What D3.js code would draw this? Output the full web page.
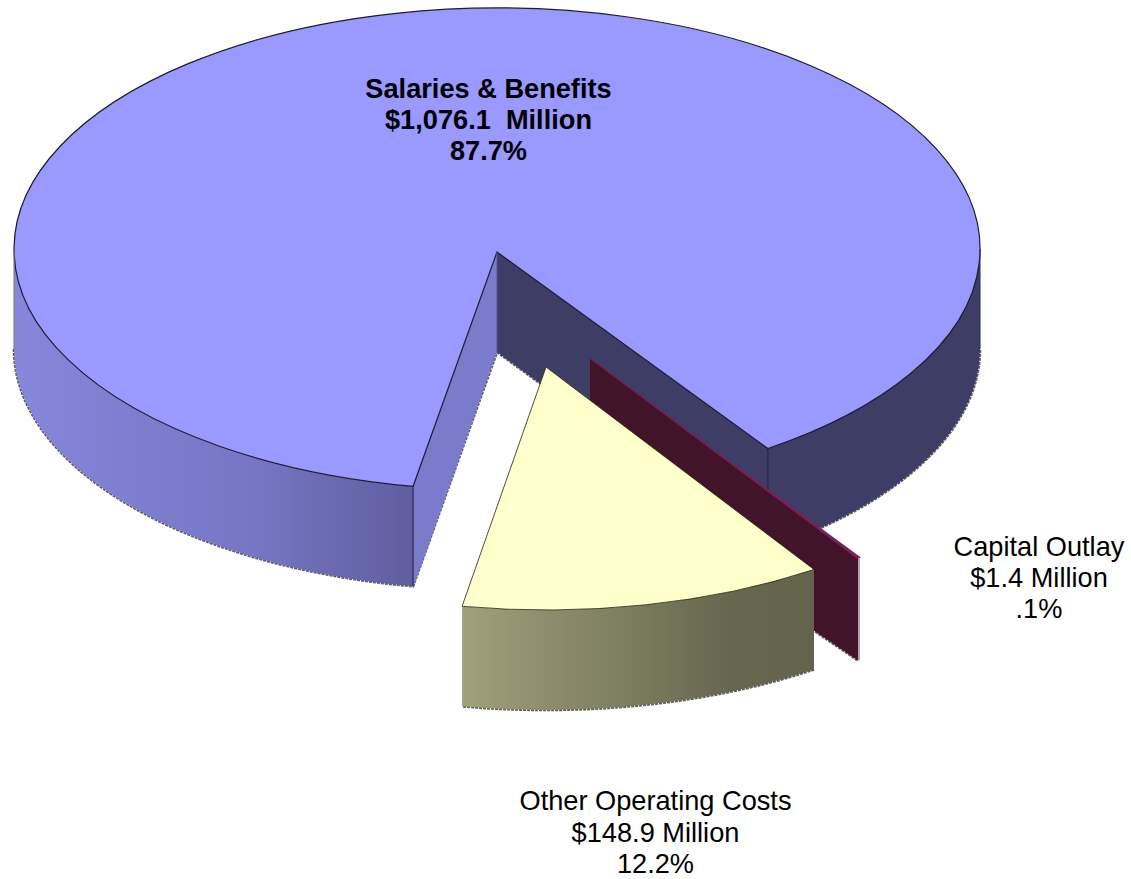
<!DOCTYPE html>
<html>
<head>
<meta charset="utf-8">
<script src="https://cdn.jsdelivr.net/npm/d3@7"></script>
<style>
  html, body { margin: 0; padding: 0; background: #fff; }
  svg { display: block; }
  text { font-family: "Liberation Sans", Arial, sans-serif; font-size: 27.2px; fill: #000; white-space: pre; }
</style>
</head>
<body>
<svg id="chart" width="1131" height="879"></svg>
<script>
// Budget split, in millions of dollars
const categories = ["Salaries & Benefits", "Capital Outlay", "Other Operating Costs"];
const amounts = [1076.1, 1.4, 148.9];
const amountLabels = ["$1,076.1  Million", "$1.4 Million", "$148.9 Million"];
const shareLabels = ["87.7%", ".1%", "12.2%"];

// Tilted-disc geometry
const rx = 483, ry = 241, depth = 100;
const firstAngle = 190 * Math.PI / 180;
const centers = [{ x: 497, y: 249, tip: 3 }, { x: 590, y: 358, tip: 0 }, { x: 546, y: 369, tip: -2 }];

const topColors = ["#9999ff", "#7b2057", "#ffffcc"];
const faceColors = ["#3d3d66", "#421429", "#66664f"];
const labelAnchors = [{ x: 488.5, y: 88 }, { x: 1039, y: 546 }, { x: 655.5, y: 800.6 }];
const labelWeights = ["bold", "normal", "normal"];

const svg = d3.select("#chart");
const slices = d3.pie().sort(null).startAngle(firstAngle).endAngle(firstAngle + 2 * Math.PI)(amounts);

const at = (c, a, dy = 0) => [c.x + rx * Math.sin(a), c.y - ry * Math.cos(a) + dy];
const tip = (c, dy = 0) => [c.x, c.y + c.tip + dy];
const pt = p => p[0].toFixed(1) + "," + p[1].toFixed(1);

const arcTo = (c, a, dy, sweep, large) =>
  `A${rx},${ry} 0 ${large ? 1 : 0} ${sweep} ${pt(at(c, a, dy))}`;

// Top surface of a slice
const topPath = (c, s) =>
  `M${pt(tip(c))}L${pt(at(c, s.startAngle))}${arcTo(c, s.endAngle, 0, 1, s.endAngle - s.startAngle > Math.PI)}Z`;

// Outer rim wall between two angles
const rimPath = (c, a0, a1) =>
  `M${pt(at(c, a0))}${arcTo(c, a1, 0, 1)}L${pt(at(c, a1, depth))}${arcTo(c, a0, depth, 0)}Z`;

// Flat cut face running from the centre out to the rim
const facePath = (c, a, tipDepth = depth) =>
  `M${pt(tip(c))}L${pt(at(c, a))}L${pt(at(c, a, depth + 2))}L${pt(tip(c, tipDepth))}Z`;

// Rim shading
const defs = svg.append("defs");
function rimGradient(id, x1, x2, stops) {
  const g = defs.append("linearGradient").attr("id", id)
    .attr("gradientUnits", "userSpaceOnUse")
    .attr("x1", x1).attr("x2", x2).attr("y1", 0).attr("y2", 0);
  stops.forEach(([o, c]) => g.append("stop").attr("offset", o).attr("stop-color", c));
}
rimGradient("rimMain", 14, 414, [[0, "#8686dc"], [0.6, "#7676c4"], [1, "#5e5e9e"]]);
rimGradient("rimOther", 463, 815, [[0, "#a0a07c"], [0.75, "#67674f"], [1, "#64644c"]]);

const edge = "#1c1c2e";
const fringe = sel => sel.attr("fill", "none").attr("stroke", "#5c5c5c")
  .attr("stroke-width", 2.6).attr("stroke-dasharray", "3 1");

const [main, capital, other] = slices;
const cMain = centers[0], cCap = centers[1], cOther = centers[2];
const q = Math.PI / 2;
const rightEnd = main.endAngle - 2 * Math.PI;

// Salaries & Benefits: lower edges, then walls, then the top surface
svg.append("path").call(fringe)
  .attr("d", `M${pt(at(cMain, 3 * q, depth))}${arcTo(cMain, main.startAngle, depth, 0)}L${pt(tip(cMain, depth))}`);
svg.append("path").call(fringe)
  .attr("d", `M${pt(tip(cMain, depth))}L${pt(at(cMain, main.endAngle, depth))}${arcTo(cMain, q, depth, 0)}`);

svg.append("path").attr("d", rimPath(cMain, q, rightEnd)).attr("fill", faceColors[0]);
svg.append("path").attr("d", rimPath(cMain, main.startAngle, 3 * q)).attr("fill", "url(#rimMain)");
svg.append("path").attr("d", facePath(cMain, main.endAngle)).attr("fill", faceColors[0]);
svg.append("path").attr("d", facePath(cMain, main.startAngle)).attr("fill", "#7b7bcb");

svg.append("path").attr("d", topPath(cMain, main)).attr("fill", topColors[0])
  .attr("stroke", edge).attr("stroke-width", 1.2);
svg.append("path").attr("d", `M${pt(at(cMain, main.startAngle))}L${pt(at(cMain, main.startAngle, depth))}`)
  .attr("stroke", edge).attr("stroke-width", 1);
svg.append("path").attr("d", `M${pt(at(cMain, main.endAngle))}L${pt(at(cMain, main.endAngle, depth))}`)
  .attr("stroke", edge).attr("stroke-width", 1);
svg.append("path").attr("d", `M${pt(tip(cMain))}L${pt(tip(cMain, depth))}`)
  .attr("stroke", "#55558f").attr("stroke-width", 1);
svg.append("path").attr("d", `M14,${cMain.y}V${cMain.y + depth}`).attr("stroke", "#777").attr("stroke-width", 1);
svg.append("path").attr("d", `M980,${cMain.y}V${cMain.y + depth}`).attr("stroke", "#2a2a44").attr("stroke-width", 1);

// Capital Outlay: a thin blade
const bladeTipDepth = 121;
svg.append("path").call(fringe)
  .attr("d", `M${pt(tip(cCap, bladeTipDepth))}L${pt(at(cCap, capital.endAngle, depth + 2))}`);
svg.append("path").attr("d", `M${pt(at(cCap, capital.endAngle))}V${at(cCap, capital.endAngle, depth + 2)[1]}`)
  .attr("stroke", "#aaa").attr("stroke-width", 2).attr("transform", "translate(1,0)");
svg.append("path").attr("d", facePath(cCap, capital.endAngle, bladeTipDepth)).attr("fill", faceColors[1]);
svg.append("path").attr("d", topPath(cCap, capital)).attr("fill", topColors[1]);
svg.append("path").attr("d", `M${pt(tip(cCap))}L${pt(at(cCap, capital.endAngle))}`)
  .attr("stroke", topColors[1]).attr("stroke-width", 1.4);

// Other Operating Costs
svg.append("path").call(fringe)
  .attr("d", `M${pt(at(cOther, other.startAngle, depth))}${arcTo(cOther, other.endAngle, depth, 1)}`);
svg.append("path").attr("d", rimPath(cOther, other.startAngle, other.endAngle)).attr("fill", "url(#rimOther)");
svg.append("path").attr("d", topPath(cOther, other)).attr("fill", topColors[2])
  .attr("stroke", "#23230f").attr("stroke-width", 0.8);

// Labels
categories.forEach((name, i) => {
  const t = svg.append("text").attr("text-anchor", "middle")
    .style("font-weight", labelWeights[i]);
  [name, amountLabels[i], shareLabels[i]].forEach((line, k) => {
    t.append("tspan").attr("x", labelAnchors[i].x)
      .attr("y", labelAnchors[i].y + k * 31.4)
      .attr("dy", "0.35em")
      .text(line);
  });
});
</script>
</body>
</html>
